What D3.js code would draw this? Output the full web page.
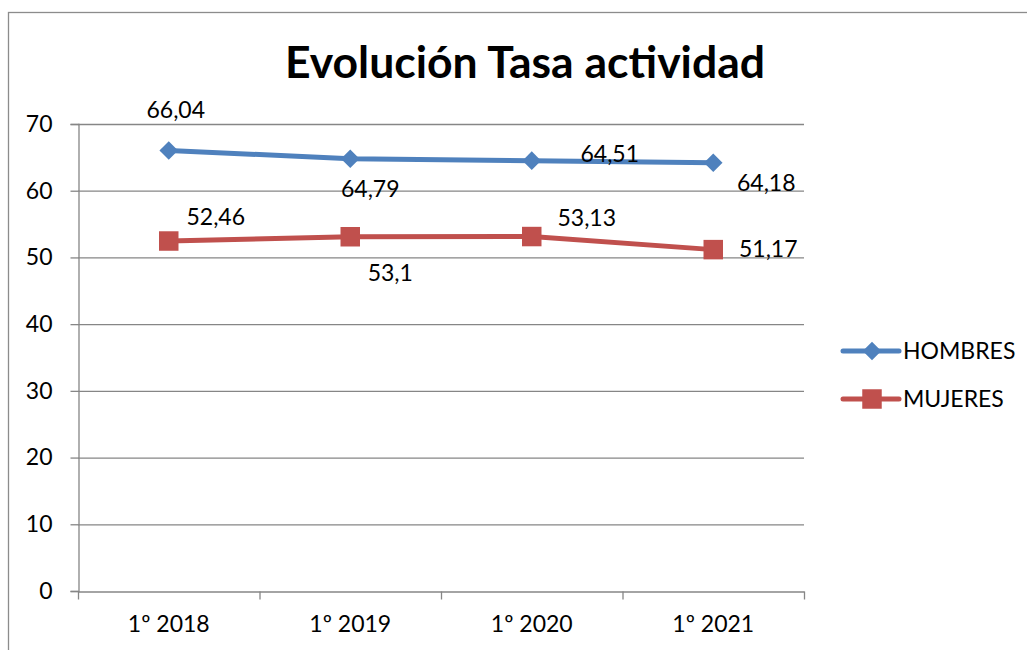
<!DOCTYPE html>
<html>
<head>
<meta charset="utf-8">
<script src="https://cdn.jsdelivr.net/npm/d3@7"></script>
<style>
  body { margin: 0; background: #fff; }
  text { font-family: Lato, "Open Sans", sans-serif; fill: #000; }
</style>
</head>
<body>
<script>
/* data */
var categories = ['1º 2018', '1º 2019', '1º 2020', '1º 2021']
var hombres = [66.04, 64.79, 64.51, 64.18]
var mujeres = [52.46, 53.1, 53.13, 51.17]
var seriesNames = ['HOMBRES', 'MUJERES']
var yTicks = [0, 10, 20, 30, 40, 50, 60, 70]

/* label nudges, Excel-style placement */
var hombresLabelOffset = [[7, -32], [20, 38], [78, 1], [53, 28]]
var mujeresLabelOffset = [[47, -16], [40, 44], [55, -11], [55, 7]]

/* setup */
var width = 1027
var height = 650
var plot = { left: 78, right: 804, top: 124, bottom: 591 }
var blue = '#4F81BD'
var red = '#C0504D'
var gridColor = '#868686'
var fontSize = '23px'

var fmt = function(v) { return String(v).replace('.', ',') }

var svg = d3.select('body').append('svg')
    .attr('width', width)
    .attr('height', height)

svg.append('rect')
    .attr('x', 8.5).attr('y', 12.5)
    .attr('width', 1030).attr('height', 650)
    .attr('fill', 'none')
    .attr('stroke', '#8c8c8c')
    .attr('stroke-width', 1.3)

svg.append('text')
    .attr('x', 525).attr('y', 78)
    .attr('text-anchor', 'middle')
    .style('font-size', '44.5px')
    .style('font-weight', 'bold')
    .text('Evolución Tasa actividad')

var x = d3.scaleBand().domain(categories).range([plot.left, plot.right])
var y = d3.scaleLinear().domain([0, 70]).range([plot.bottom, plot.top])

/* gridlines */
svg.append('g').selectAll('line').data(yTicks.slice(1)).enter().append('line')
    .attr('x1', plot.left).attr('x2', plot.right)
    .attr('y1', function(d) { return y(d) + 0.5 })
    .attr('y2', function(d) { return y(d) + 0.5 })
    .attr('stroke', gridColor).attr('stroke-width', 1.3)

/* axes */
var yAxis = svg.append('g')
    .attr('transform', 'translate(' + (plot.left + 0.5) + ',0)')
    .call(d3.axisLeft(y).tickValues(yTicks).tickSize(8).tickPadding(18).tickFormat(d3.format('d')))
var xAxis = svg.append('g')
    .attr('transform', 'translate(0,' + (plot.bottom + 0.5) + ')')
    .call(d3.axisBottom(x).tickSize(0).tickPadding(24))

// boundary ticks between categories
xAxis.selectAll('.bound').data(d3.range(categories.length + 1)).enter().append('line')
    .attr('class', 'bound')
    .attr('x1', function(i) { return plot.left + i * x.step() + 0.5 })
    .attr('x2', function(i) { return plot.left + i * x.step() + 0.5 })
    .attr('y1', 0).attr('y2', 8)

;[yAxis, xAxis].forEach(function(a) {
    a.selectAll('path, line').attr('stroke', gridColor).attr('stroke-width', 1.3)
    a.selectAll('text').style('font-size', fontSize).attr('fill', '#000')
})

/* series */
var line = d3.line()
    .x(function(d, i) { return x(categories[i]) + x.bandwidth() / 2 })
    .y(function(d) { return y(d) })

var cx = function(d, i) { return x(categories[i]) + x.bandwidth() / 2 }

svg.append('path').datum(hombres)
    .attr('d', line).attr('fill', 'none')
    .attr('stroke', blue).attr('stroke-width', 5)
svg.append('path').datum(mujeres)
    .attr('d', line).attr('fill', 'none')
    .attr('stroke', red).attr('stroke-width', 5)

var diamond = d3.symbol().type(d3.symbolDiamond2).size(220)
var square = d3.symbol().type(d3.symbolSquare).size(380)

svg.append('g').selectAll('path').data(hombres).enter().append('path')
    .attr('d', diamond)
    .attr('transform', function(d, i) { return 'translate(' + cx(d, i) + ',' + y(d) + ')' })
    .attr('fill', blue)
svg.append('g').selectAll('path').data(mujeres).enter().append('path')
    .attr('d', square)
    .attr('transform', function(d, i) { return 'translate(' + cx(d, i) + ',' + y(d) + ')' })
    .attr('fill', red)

/* data labels */
function labels(data, offs) {
    svg.append('g').selectAll('text').data(data).enter().append('text')
        .attr('x', function(d, i) { return cx(d, i) + offs[i][0] })
        .attr('y', function(d, i) { return y(d) + offs[i][1] })
        .attr('text-anchor', 'middle')
        .style('font-size', fontSize)
        .text(fmt)
}
labels(hombres, hombresLabelOffset)
labels(mujeres, mujeresLabelOffset)

/* legend */
var legend = svg.append('g').attr('transform', 'translate(843,351)')
var item = legend.selectAll('g').data(seriesNames).enter().append('g')
    .attr('transform', function(d, i) { return 'translate(0,' + i * 48 + ')' })
item.append('line')
    .attr('x1', 0).attr('x2', 56)
    .attr('stroke', function(d, i) { return i ? red : blue })
    .attr('stroke-width', 5)
    .attr('stroke-linecap', 'round')
item.append('path')
    .attr('d', function(d, i) { return i ? square() : diamond() })
    .attr('transform', 'translate(29,0)')
    .attr('fill', function(d, i) { return i ? red : blue })
item.append('text')
    .attr('x', 60).attr('y', 8)
    .style('font-size', fontSize)
    .text(function(d) { return d })
</script>
</body>
</html>
